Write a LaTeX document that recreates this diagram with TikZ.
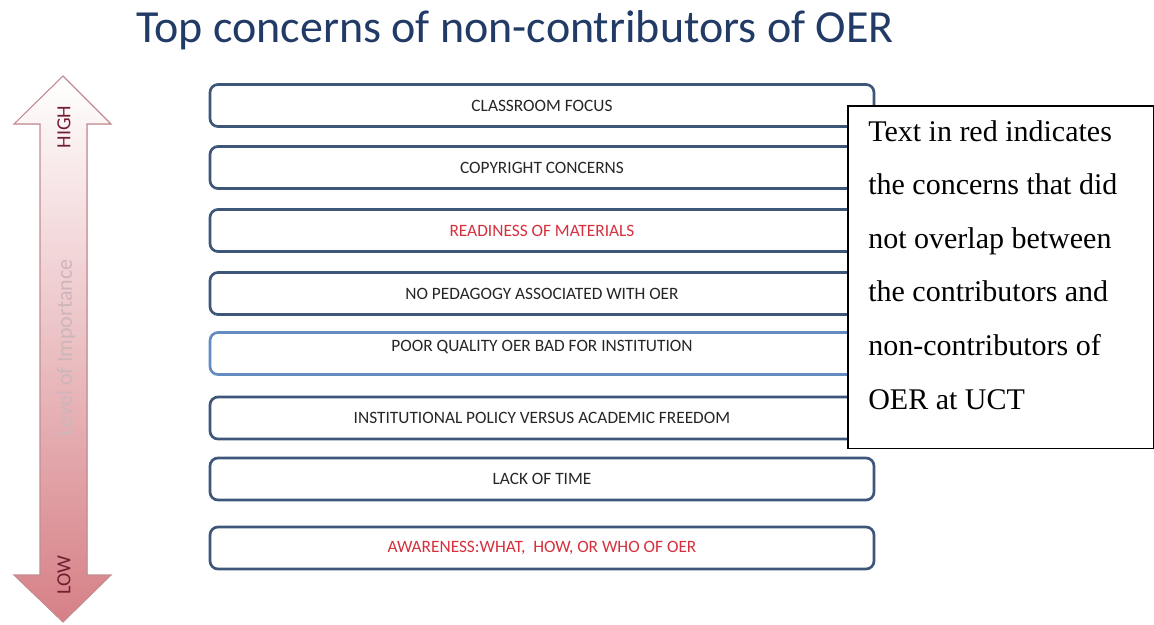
\documentclass[tikz,border=0pt]{standalone}
\usepackage{fontspec}
\setsansfont{Carlito}
\newfontfamily\notefont{Liberation Serif}
\definecolor{TitleBlue}{RGB}{33,58,102}
\definecolor{BoxBlue}{RGB}{62,86,122}
\definecolor{LightBoxBlue}{RGB}{100,140,195}
\definecolor{AlertRed}{RGB}{214,48,62}
\definecolor{ArrowPink}{RGB}{214,128,134}
\definecolor{ArrowMid}{RGB}{242,218,220}
\definecolor{ArrowEdge}{RGB}{196,140,146}
\definecolor{Maroon}{RGB}{112,30,48}
\definecolor{FaintRose}{RGB}{205,182,186}
\usetikzlibrary{positioning}

\begin{document}
\begin{tikzpicture}[x=0.75pt,y=-0.75pt,
    concern/.style={draw=BoxBlue,line width=2pt,rounded corners=6pt,fill=white,
        minimum width=498pt,minimum height=31.5pt,inner sep=0pt,
        font=\sffamily\fontsize{13}{15}\selectfont,text=black!85},
    red concern/.style={concern,text=AlertRed},
    scale label/.style={rotate=90,font=\sffamily\fontsize{15}{17}\selectfont,text=Maroon}]

    \useasboundingbox[fill=white] (0,0) rectangle (1154,625);

    % title
    \node[font=\sffamily\fontsize{34.5}{38}\selectfont,text=TitleBlue] (title) at (515,30)
        {Top concerns of non-contributors of OER};

    % importance arrow
    \filldraw[draw=ArrowEdge,line width=0.8pt,top color=white,middle color=ArrowMid,bottom color=ArrowPink]
        (63,76)
        -- (111,124)
        -- (87,124)
        -- (87,575)
        -- (111,575)
        -- (63,622)
        -- (14,575)
        -- (40,575)
        -- (40,124)
        -- (14,124)
        -- cycle;
    \node[scale label] (high) at (64,127) {HIGH};
    \node[scale label] (low) at (64,575) {LOW};
    \node[scale label,text=FaintRose,font=\sffamily\fontsize{16.5}{18}\selectfont] (importance) at (66,348)
        {Level of Importance};

    % concern boxes
    \node[concern] (focus) at (542,105.5) {CLASSROOM FOCUS};
    \node[concern] (copyright) at (542,167.5) {COPYRIGHT CONCERNS};
    \node[red concern] (readiness) at (542,230.5) {READINESS OF MATERIALS};
    \node[concern] (pedagogy) at (542,293.5) {NO PEDAGOGY ASSOCIATED WITH OER};
    \node[concern,draw=LightBoxBlue,text depth=11pt] (quality) at (542,353.5) {POOR QUALITY OER BAD FOR INSTITUTION};
    \node[concern] (policy) at (542,418) {INSTITUTIONAL POLICY VERSUS ACADEMIC FREEDOM};
    \node[concern] (time) at (542,479) {LACK OF TIME};
    \node[red concern] (awareness) at (542,548) {AWARENESS:WHAT,\ \ HOW, OR WHO OF OER};

    % note box
    \node[draw=black,line width=1.2pt,fill=white,anchor=north west,
        minimum width=229.5pt,minimum height=257pt,inner sep=0pt] (note) at (847,105) {};
    \node[anchor=north west,align=left,inner sep=0pt,
        font=\notefont\fontsize{22.5}{40.2}\selectfont] (notetext) at (868,120)
        {Text in red indicates\\the concerns that did\\not overlap between\\the contributors and\\non-contributors of\\OER at UCT};

\end{tikzpicture}
\end{document}
